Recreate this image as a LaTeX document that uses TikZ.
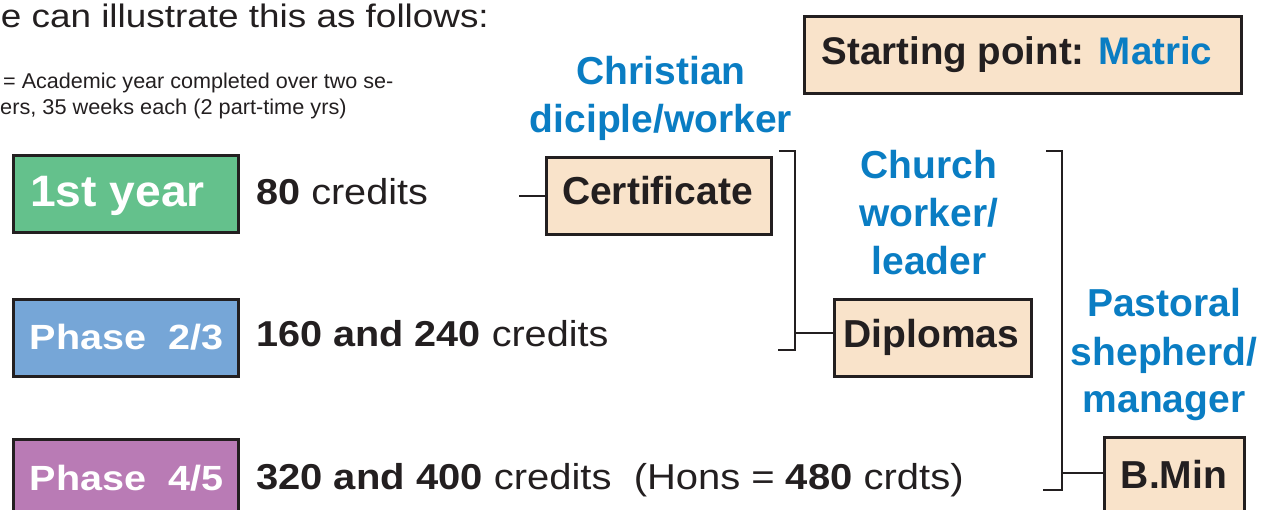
\documentclass[tikz,border=0pt]{standalone}
\usepackage{fontspec}
\usepackage{graphicx}
\setmainfont{Liberation Sans}
\definecolor{ink}{HTML}{231F20}
\definecolor{bluetxt}{HTML}{0A7DC3}
\definecolor{greenbox}{HTML}{64C18C}
\definecolor{bluebox}{HTML}{76A6D7}
\definecolor{purplebox}{HTML}{B97BB5}
\definecolor{peach}{HTML}{F9E3CA}
\newcommand\fsz[1]{\fontsize{#1}{48}\selectfont}
\newcommand\sx[2]{\scalebox{#1}[1]{#2}}
\newcommand\lines[1]{\begin{tabular}[t]{@{}c@{}}#1\end{tabular}}
\begin{document}
\begin{tikzpicture}[x=1pt,y=-1pt,
  box/.style={draw=ink, line width=2.7pt, rectangle, inner sep=0pt, anchor=north west},
  phasebox/.style={box, minimum width=225pt, minimum height=77pt},
  degbox/.style={box, fill=peach},
  boxtext/.style={text=white, font=\bfseries\fsz{35}, inner sep=0pt, anchor=base west},
  degtext/.style={text=ink, font=\bfseries\fsz{39}, inner sep=0pt, anchor=base},
  credtext/.style={text=ink, font=\fsz{36}, inner sep=0pt, anchor=base west},
  role/.style={text=bluetxt, font=\bfseries\fsz{39}, inner sep=0pt, anchor=base},
  wire/.style={draw=ink, line width=2.6pt}]
\useasboundingbox (0,0) rectangle (1263,510);
\clip (0,0) rectangle (1263,510);
% heading and note
\node[inner sep=0pt, anchor=base east, text=ink, font=\fsz{32.5}] (title) at (489,27.5) {\sx{1.135}{e can illustrate this as follows:}};
\node[inner sep=0pt, anchor=base west, text=ink, font=\fsz{21.4}] (note1) at (3,89) {\sx{1.008}{= Academic year completed over two se-}};
\node[inner sep=0pt, anchor=base west, text=ink, font=\fsz{21.4}] (note2) at (0,115) {\sx{1.015}{ers, 35 weeks each (2 part-time yrs)}};
% phase boxes
\node[phasebox, fill=greenbox] (y1) at (12,154.5) {};
\node[phasebox, fill=bluebox] (p23) at (12,298) {};
\node[phasebox, fill=purplebox] (p45) at (12,438) {};
\node[boxtext, font=\bfseries\fsz{44}] (y1t) at (30,207) {\sx{1.05}{1st year}};
\node[boxtext] (p23t) at (29.5,349) {\sx{1.13}{Phase\ \ 2/3}};
\node[boxtext] (p45t) at (29.5,490) {\sx{1.13}{Phase\ \ 4/5}};
% credits
\node[credtext] (c1) at (256,205) {\sx{1.1}{\textbf{80} credits}};
\node[credtext] (c2) at (256,347) {\sx{1.1}{\textbf{160 and 240} credits}};
\node[credtext] (c3) at (256,489) {\sx{1.11}{\textbf{320 and 400} credits\ \ (Hons = \textbf{480} crdts)}};
% degree boxes
\node[degbox, minimum width=225pt, minimum height=77pt] (cert) at (545,156) {};
\node[degtext] (certt) at (657.5,205) {Certificate};
\node[degbox, minimum width=197pt, minimum height=77pt] (dipl) at (833,298) {};
\node[degtext] (diplt) at (931.5,348) {Diplomas};
\node[degbox, minimum width=140pt, minimum height=80pt] (bmin) at (1103,436) {};
\node[degtext] (bmint) at (1174,488) {B.Min};
\node[degbox, minimum width=437pt, minimum height=77pt] (start) at (803,15) {};
\node[degtext, font=\bfseries\fsz{38.5}] (startt) at (1017,65) {Starting point: \textcolor{bluetxt}{Matric}};
% role labels
\node[role] (r1) at (661,85) {\lines{Christian\\diciple/worker}};
\node[role] (r2) at (929,179) {\lines{Church\\worker/\\leader}};
\node[role] (r3) at (1164,317) {\lines{Pastoral\\shepherd/\\manager}};
% connectors and brackets
\coordinate (certin) at (519,196);
\draw[wire] (certin) -- (cert.west |- certin);
\coordinate (b1top) at (779,151);
\coordinate (b1bot) at (778,350);
\coordinate (b1mid) at (795,333);
\draw[wire] (b1top) -- (795,151) -- (795,350) -- (b1bot);
\draw[wire] (b1mid) -- (dipl.west |- b1mid);
\coordinate (b2top) at (1046,151);
\coordinate (b2bot) at (1043,490);
\coordinate (b2mid) at (1062,473);
\draw[wire] (b2top) -- (1062,151) -- (1062,490) -- (b2bot);
\draw[wire] (b2mid) -- (bmin.west |- b2mid);
\end{tikzpicture}
\end{document}
